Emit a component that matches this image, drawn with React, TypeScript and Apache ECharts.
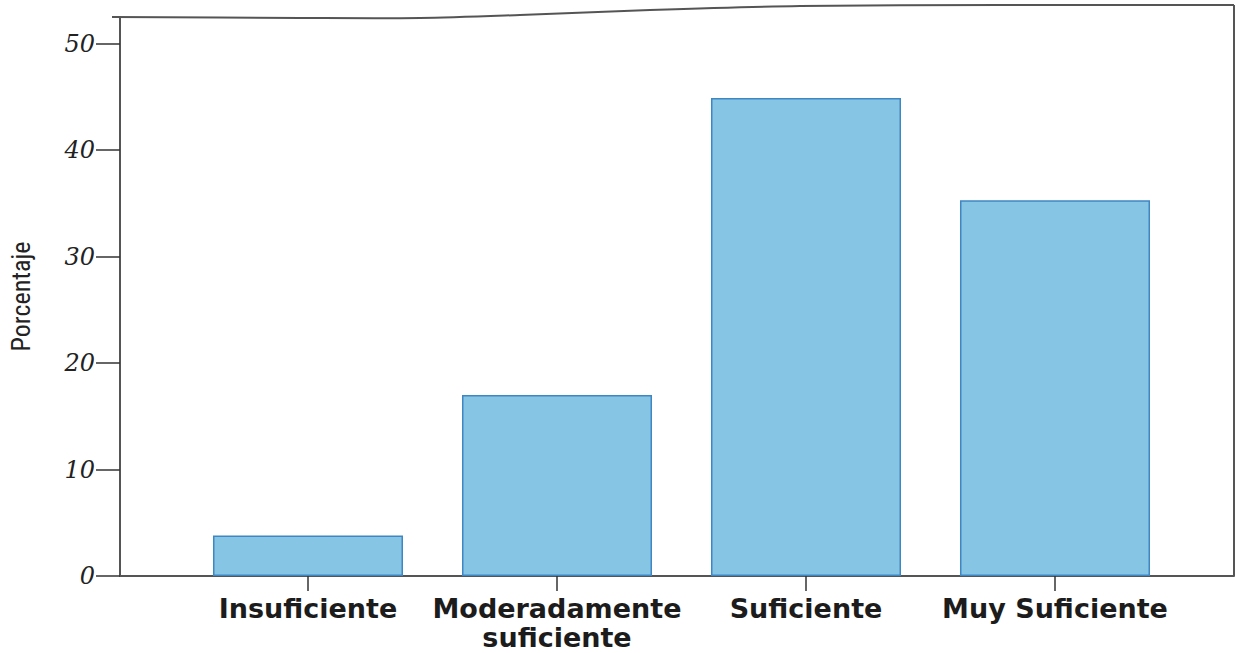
import React, { useEffect, useRef } from "react";
import * as echarts from "echarts";

// Categories and percentage of responses per category
const categories = ["Insuficiente", "Moderadamente\nsuficiente", "Suficiente", "Muy Suficiente"];
const porcentajes = [3.8, 17.0, 44.9, 35.3];
const yTicks = [0, 10, 20, 30, 40, 50];
const yMax = 52.5;

export default function App() {
  const ref = useRef<HTMLDivElement>(null);

  useEffect(() => {
    if (!ref.current) return;
    const chart = echarts.init(ref.current, null, { renderer: "svg" });
    const frameColor = "#555";
    const tickStyle = { color: "#333", width: 1.5 };

    chart.setOption({
      animation: false,
      backgroundColor: "#ffffff",
      grid: [
        { left: 112, top: 17, width: 1122, height: 559 },
        { left: 183.5, top: 17, width: 996, height: 559 },
      ],
      xAxis: [
        {
          gridIndex: 0,
          type: "value",
          min: 0,
          max: 1,
          axisLine: { show: true, lineStyle: { color: frameColor, width: 2 } },
          axisTick: { show: false },
          axisLabel: { show: false },
          splitLine: { show: false },
        },
        {
          gridIndex: 1,
          type: "category",
          data: categories,
          axisLine: { show: false },
          axisTick: { show: true, alignWithLabel: true, length: 15, lineStyle: tickStyle },
          axisLabel: {
            interval: 0,
            margin: 18,
            fontFamily: "DejaVu Sans",
            fontWeight: "bold",
            fontSize: 27,
            lineHeight: 29,
            color: "#1c1c1c",
          },
          splitLine: { show: false },
        },
      ],
      yAxis: [
        {
          gridIndex: 0,
          type: "value",
          min: 0,
          max: yMax,
          name: "Porcentaje",
          nameLocation: "middle",
          nameGap: 86,
          nameTextStyle: {
            fontFamily: '"Liberation Sans Narrow", "Roboto Condensed", sans-serif',
            fontSize: 26,
            color: "#222",
          },
          axisLine: { show: true, lineStyle: { color: frameColor, width: 2 } },
          axisTick: { show: true, length: 24, customValues: yTicks, lineStyle: tickStyle },
          axisLabel: {
            customValues: yTicks,
            margin: 25,
            fontFamily: "DejaVu Serif",
            fontStyle: "italic",
            fontSize: 24,
            color: "#222",
          },
          splitLine: { show: false },
        },
        { gridIndex: 1, type: "value", min: 0, max: yMax, show: false },
      ],
      series: [
        {
          type: "bar",
          xAxisIndex: 1,
          yAxisIndex: 1,
          data: porcentajes,
          barWidth: 190,
          itemStyle: { color: "#86c5e3", borderColor: "#3f87c4", borderWidth: 1.5 },
        },
      ],
      graphic: [
        {
          // top edge of the frame
          type: "polyline",
          shape: {
            points: [
              [112, 17],
              [300, 18],
              [420, 18],
              [520, 15],
              [650, 10],
              [800, 6],
              [1000, 5],
              [1234, 5],
            ],
            smooth: 0.3,
          },
          style: { stroke: frameColor, lineWidth: 2, fill: "none" },
          silent: true,
        },
        {
          // right edge of the frame
          type: "line",
          shape: { x1: 1234, y1: 5, x2: 1234, y2: 576 },
          style: { stroke: frameColor, lineWidth: 2 },
          silent: true,
        },
      ],
    });

    return () => chart.dispose();
  }, []);

  return (
    <div
      ref={ref}
      style={{ position: "fixed", left: 0, top: 0, width: 1239, height: 653 }}
    />
  );
}
